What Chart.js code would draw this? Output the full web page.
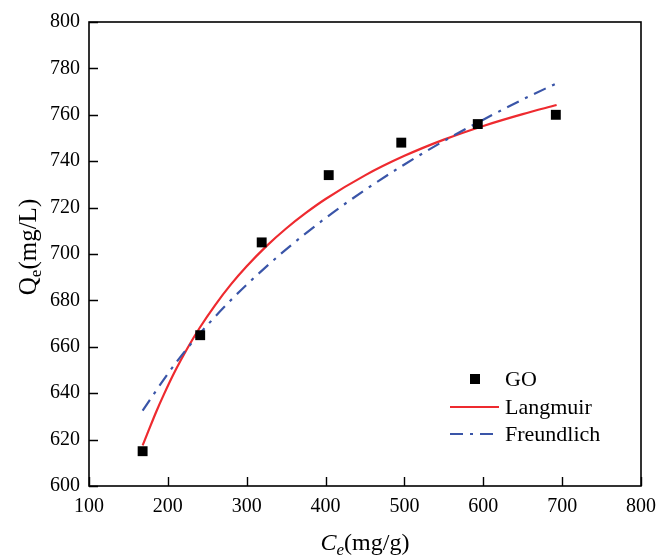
<!DOCTYPE html>
<html>
<head>
<meta charset="utf-8">
<script src="https://cdn.jsdelivr.net/npm/chart.js@4/dist/chart.umd.min.js"></script>
<style>
html,body{margin:0;padding:0;background:#fff;}
#wrap{width:665px;height:558px;}
</style>
</head>
<body>
<div id="wrap"><canvas id="c" width="665" height="558"></canvas></div>
<script>
const goX = [168, 241, 319, 404, 496, 593, 692];
const goY = [615, 665, 705, 734, 748, 756, 760];
const langX = [168, 175, 185, 195, 210, 225, 240, 260, 280, 300, 325, 350, 375, 400, 450, 500, 550, 600, 650, 693];
const langY = [617.5, 623.4, 631.8, 639.5, 650.1, 659.5, 668.0, 678.0, 686.9, 694.7, 703.4, 711.0, 717.7, 723.7, 733.9, 742.3, 749.3, 755.2, 760.3, 764.2];
const freX = [168, 200, 225, 250, 275, 300, 350, 400, 450, 500, 550, 600, 650, 693];
const freY = [632.5, 648.4, 659.5, 669.3, 678.4, 686.8, 702.0, 715.5, 727.6, 738.6, 748.7, 757.9, 766.6, 773.6];
const xTicks = [100, 200, 300, 400, 500, 600, 700, 800];
const yTicks = [600, 620, 640, 660, 680, 700, 720, 740, 760, 780, 800];
const seriesNames = ['GO', 'Langmuir', 'Freundlich'];

const pts = (xs, ys) => xs.map((x, i) => ({x: x, y: ys[i]}));
const SERIF = '"Liberation Serif", "Times New Roman", serif';
const RED = '#ee2a2f', BLUE = '#3a55a8';
const DASH = [13, 7, 3, 7];

const framePlugin = {
  id: 'frame',
  afterDatasetsDraw(chart) {
    const ctx = chart.ctx;
    const a = chart.chartArea;
    const xs = chart.scales.x, ys = chart.scales.y;
    ctx.save();
    ctx.strokeStyle = '#000';
    ctx.lineWidth = 1.6;
    ctx.strokeRect(a.left, a.top, a.right - a.left, a.bottom - a.top);
    ctx.lineWidth = 1.4;
    ctx.beginPath();
    xTicks.forEach(v => {
      const px = Math.round(xs.getPixelForValue(v)) + 0.5;
      ctx.moveTo(px, a.bottom);
      ctx.lineTo(px, a.bottom - 9);
    });
    yTicks.forEach(v => {
      const py = Math.round(ys.getPixelForValue(v)) + 0.5;
      ctx.moveTo(a.left, py);
      ctx.lineTo(a.left + 9, py);
    });
    ctx.stroke();

    // legend
    const lx = 450, tx = 505;
    const rows = [379, 407, 434];
    ctx.font = '22px ' + SERIF;
    ctx.fillStyle = '#000';
    ctx.textBaseline = 'middle';
    ctx.textAlign = 'left';
    ctx.fillRect(470, rows[0] - 5, 10, 10);
    ctx.fillText(seriesNames[0], tx, rows[0] + 1);
    ctx.strokeStyle = RED;
    ctx.lineWidth = 2.2;
    ctx.beginPath(); ctx.moveTo(lx, rows[1]); ctx.lineTo(lx + 49, rows[1]); ctx.stroke();
    ctx.fillText(seriesNames[1], tx, rows[1] + 1);
    ctx.strokeStyle = BLUE;
    ctx.setLineDash(DASH);
    ctx.beginPath(); ctx.moveTo(lx, rows[2]); ctx.lineTo(lx + 49, rows[2]); ctx.stroke();
    ctx.setLineDash([]);
    ctx.fillText(seriesNames[2], tx, rows[2] + 1);

    // x title: C_e(mg/g)
    ctx.textBaseline = 'alphabetic';
    const xt = (a.left + a.right) / 2;
    const yBase = 550;
    const f1 = 'italic 24px ' + SERIF, f2 = 'italic 17px ' + SERIF, f3 = '24px ' + SERIF;
    ctx.font = f1; const wC = ctx.measureText('C').width;
    ctx.font = f2; const we = ctx.measureText('e').width;
    ctx.font = f3; const wr = ctx.measureText('(mg/g)').width;
    let x0 = xt - (wC + we + wr) / 2;
    ctx.font = f1; ctx.fillText('C', x0, yBase);
    ctx.font = f2; ctx.fillText('e', x0 + wC, yBase + 5);
    ctx.font = f3; ctx.fillText('(mg/g)', x0 + wC + we, yBase);

    // y title: Q_e(mg/L)
    ctx.save();
    ctx.translate(36, 247);
    ctx.rotate(-Math.PI / 2);
    const g1 = '25px ' + SERIF, g2 = '17px ' + SERIF;
    ctx.font = g1; const wQ = ctx.measureText('Q').width; const wr2 = ctx.measureText('(mg/L)').width;
    ctx.font = g2; const we2 = ctx.measureText('e').width;
    let y0 = -(wQ + we2 + wr2) / 2;
    ctx.font = g1; ctx.fillText('Q', y0, 0);
    ctx.font = g2; ctx.fillText('e', y0 + wQ, 5);
    ctx.font = g1; ctx.fillText('(mg/L)', y0 + wQ + we2, 0);
    ctx.restore();
    ctx.restore();
  }
};

new Chart(document.getElementById('c'), {
  type: 'scatter',
  data: {
    datasets: [
      {
        label: seriesNames[1],
        type: 'line',
        data: pts(langX, langY),
        borderColor: RED,
        borderWidth: 2.2,
        pointRadius: 0,
        cubicInterpolationMode: 'monotone',
        fill: false,
        order: 2
      },
      {
        label: seriesNames[2],
        type: 'line',
        data: pts(freX, freY),
        borderColor: BLUE,
        borderWidth: 2.2,
        borderDash: DASH,
        pointRadius: 0,
        cubicInterpolationMode: 'monotone',
        fill: false,
        order: 1
      },
      {
        label: seriesNames[0],
        data: pts(goX, goY),
        pointStyle: 'rect',
        pointRadius: 7,
        pointBackgroundColor: '#000',
        pointBorderWidth: 0,
        pointBorderColor: '#000',
        order: 0
      }
    ]
  },
  options: {
    responsive: false,
    animation: false,
    layout: { padding: { top: 22, right: 24, left: 0, bottom: 0 } },
    plugins: { legend: { display: false }, tooltip: { enabled: false } },
    scales: {
      x: {
        type: 'linear',
        min: 100, max: 800,
        afterBuildTicks: s => { s.ticks = xTicks.map(v => ({value: v})); },
        afterFit: s => { s.height = 72; },
        grid: { display: false, drawTicks: false },
        border: { display: false },
        ticks: { font: { family: SERIF, size: 20 }, color: '#000', padding: 9, maxRotation: 0 }
      },
      y: {
        type: 'linear',
        min: 600, max: 800,
        afterBuildTicks: s => { s.ticks = yTicks.map(v => ({value: v})); },
        afterFit: s => { s.width = 89; },
        grid: { display: false, drawTicks: false },
        border: { display: false },
        ticks: { font: { family: SERIF, size: 20 }, color: '#000', padding: 9 }
      }
    }
  },
  plugins: [framePlugin]
});
</script>
</body>
</html>
